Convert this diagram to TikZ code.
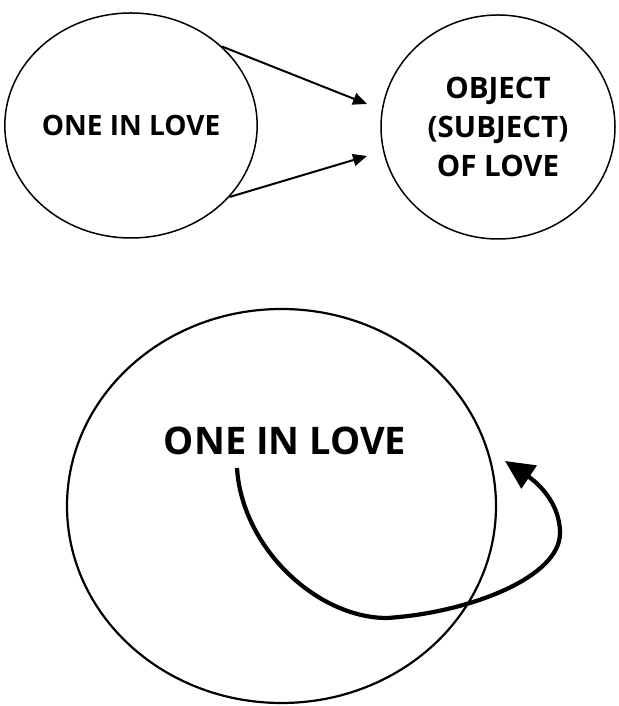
\documentclass[tikz,border=0pt]{standalone}
\usepackage{fontspec}
\setsansfont{Open Sans}
\usetikzlibrary{arrows.meta,shapes.geometric}
\tikzset{lc/.style={draw,ellipse,line width=1.5pt,inner sep=0pt,align=center,
  font=\sffamily\bfseries\fontsize{28}{39}\selectfont},
 oc/.style={lc,font=\sffamily\bfseries\fontsize{29.5}{39}\selectfont},
 bigc/.style={lc,line width=2.2pt},
 bigt/.style={font=\sffamily\bfseries\fontsize{38}{44}\selectfont},
 arr/.style={-{Triangle[length=14pt,width=12pt]},line width=2pt},
 swing/.style={-{Triangle[length=29pt,width=27pt]},line width=4.2pt}}
\begin{document}
\begin{tikzpicture}[x=1pt,y=1pt]
\useasboundingbox (0,0) rectangle (618,706);
\node[lc,minimum width=238pt,minimum height=225pt] (lover) at (131,580.5) {ONE IN LOVE};
\node[oc,minimum width=234pt,minimum height=224pt] (obj) at (498,579) {OBJECT\\(SUBJECT)\\OF LOVE};
\coordinate (t1) at (367,602);\coordinate (t2) at (367,550);
\draw[arr] (lover.41)--(t1);\draw[arr] (lover.-36)--(t2);
% the lover turned back on itself
\node[bigc,minimum width=429pt,minimum height=394pt] (self) at (281.5,200) {};
\node[bigt] (selft) at (285,265) {ONE IN LOVE};
\coordinate (s) at (237,238);\coordinate (b) at (387,88);
\coordinate (r) at (560,173);\coordinate (tip) at (505,245);
\draw[swing] (s) .. controls (242,158) and (317,88) .. (b)
  .. controls (467,93) and (560,128) .. (r)
  .. controls (560,205) and (535,225) .. (tip);
\end{tikzpicture}
\end{document}
